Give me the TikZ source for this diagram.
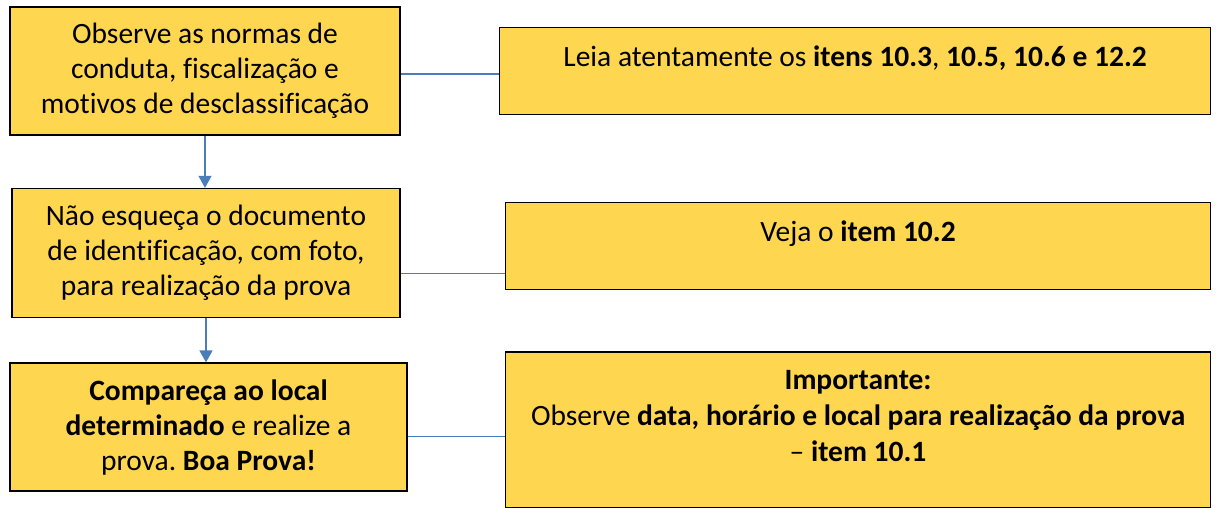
\documentclass[tikz,border=0pt]{standalone}
\usepackage{fontspec}
\setmainfont{Carlito}[Ligatures=NoCommon]
\frenchspacing
\usetikzlibrary{positioning, arrows.meta}
\definecolor{boxfill}{RGB}{255,214,80}
\definecolor{linkblue}{RGB}{74,126,187}
\tikzstyle{leftbox} = [draw=black,line width=1.6pt,fill=boxfill,align=center,font=\fontsize{29.5}{35}\selectfont,minimum height=128pt]
\tikzstyle{rightbox} = [draw=black,line width=1.6pt,fill=boxfill,minimum height=87pt]
\tikzstyle{boxtext} = [align=center,inner sep=0pt,font=\fontsize{29.5}{36}\selectfont]
\tikzstyle{link} = [draw=linkblue,line width=1.4pt]
\tikzstyle{flow} = [link,-{Triangle[width=13pt,length=12pt]}]

\begin{document}
\begin{tikzpicture}
	\useasboundingbox (-205pt,71pt) rectangle (1012pt,-436pt);
	\node [leftbox,minimum width=390pt](obs){Observe as normas de\\conduta, fiscalização e\\motivos de desclassificação};
	\node [leftbox,minimum width=388pt,minimum height=129pt,below=52pt of obs,xshift=1pt](doc){Não esqueça o documento\\de identificação, com foto,\\para realização da prova};
	\node [leftbox,minimum width=397pt,below=44pt of doc,xshift=2.5pt](local){\textbf{Compareça ao local}\\\textbf{determinado} e realize a\\prova. \textbf{Boa Prova!}};
	
	\node [rightbox,minimum width=711pt,right=98pt of obs](leia){};
	\node [boxtext,below=19pt of leia.north](leiatxt){Leia atentamente os \textbf{itens 10.3}, \textbf{10.5, 10.6 e 12.2}};
	\node [rightbox,minimum width=705pt,right=104pt of doc,yshift=7pt](veja){};
	\node [boxtext,below=19pt of veja.north](vejatxt){Veja o \textbf{item 10.2}};
	\node [rightbox,minimum width=705pt,minimum height=156pt,right=97pt of local,yshift=-3pt](imp){};
	\node [boxtext,below=19pt of imp.north](imptxt){\textbf{Importante:}\\Observe \textbf{data, horário e local para realização da prova}\\– \textbf{item 10.1}};
	
	\draw [flow](obs.south)--(obs.south |- doc.north);
	\draw [flow](doc.south)--(doc.south |- local.north);
	\draw [link]([yshift=-3pt]obs.east)--([yshift=-3pt]obs.east -| leia.west);
	\draw [link]([yshift=-20.5pt]doc.east)--([yshift=-20.5pt]doc.east -| veja.west);
	\draw [link]([yshift=-9pt]local.east)--([yshift=-9pt]local.east -| imp.west);
\end{tikzpicture}
\end{document}
